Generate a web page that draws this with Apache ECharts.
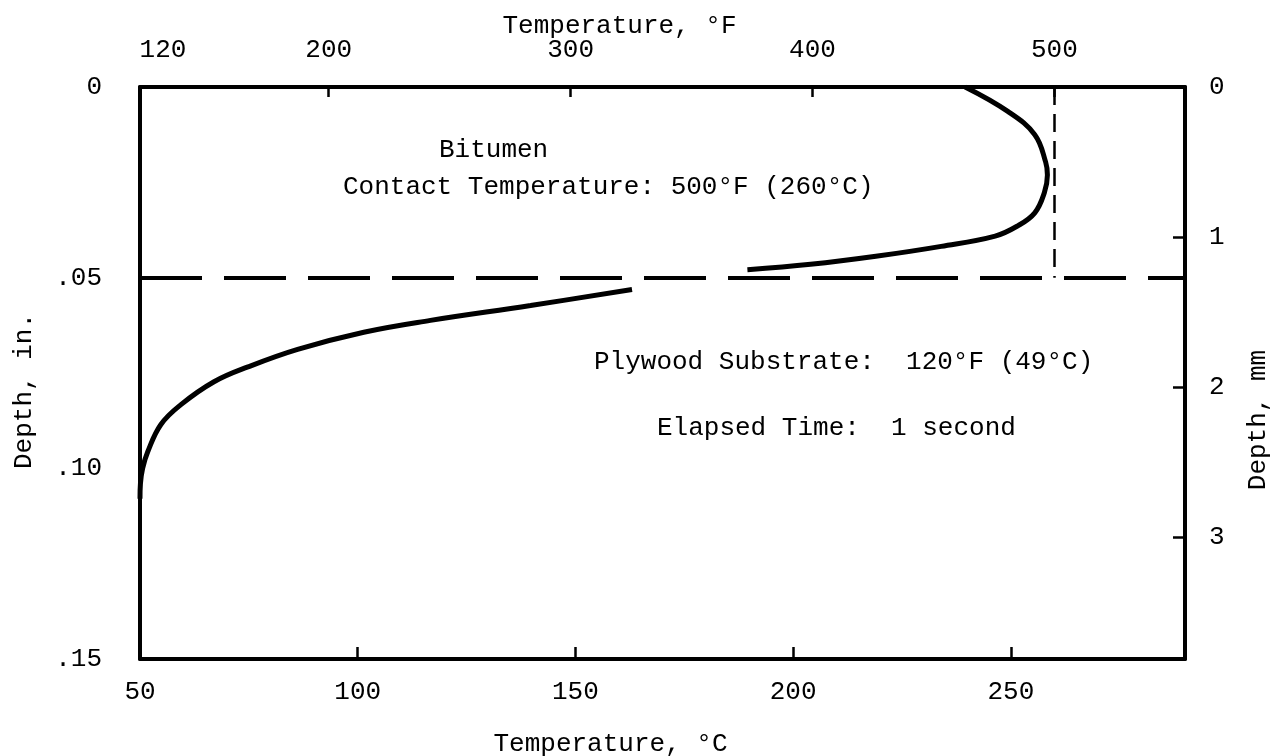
<!DOCTYPE html>
<html>
<head>
<meta charset="utf-8">
<title>Depth vs Temperature</title>
<script src="https://cdn.jsdelivr.net/npm/echarts@6/dist/echarts.min.js"></script>
<style>
  html, body { margin: 0; padding: 0; background: #fff; }
  #chart { width: 1276px; height: 756px; }
</style>
</head>
<body>
<div id="chart"></div>
<script>
  // bitumen layer profile (temperature °C, depth in.)
  var bitumenTempC = [239.5, 249.3, 255.5, 258.0, 258.4, 257.7, 255.5, 251.6, 246.4, 234.0, 219.0, 204.0, 189.5];
  var bitumenDepthIn = [0, 0.0064, 0.0125, 0.0197, 0.0231, 0.0277, 0.033, 0.0364, 0.0391, 0.0418, 0.0444, 0.0465, 0.0479];
  // plywood substrate profile
  var plywoodTempC = [163, 139.7, 116.7, 101.4, 86.2, 74.8, 67.0, 59.4, 54.8, 51.8, 50.6, 50.1, 50];
  var plywoodDepthIn = [0.0531, 0.0573, 0.0612, 0.0643, 0.0688, 0.0734, 0.0773, 0.0833, 0.0885, 0.0956, 0.1, 0.104, 0.108];

  // reference lines
  var interfaceDepthIn = 0.05;
  var contactTempC = 260;

  // top axis ticks (°F)
  var fahrenheitTicks = [120, 200, 300, 400, 500];
  var celsiusMin = 50, celsiusMax = 290;
  var depthMaxIn = 0.15;

  var FONT = '"Liberation Mono", "DejaVu Sans Mono", monospace';
  var BLACK = '#000';

  function toF(c) { return c * 9 / 5 + 32; }
  function pairs(xs, ys) { return xs.map(function (x, i) { return [x, ys[i]]; }); }

  var fMin = toF(celsiusMin), fMax = toF(celsiusMax);
  var fLabelValues = fahrenheitTicks.map(function (v) { return Math.max(v, fMin); });

  var chart = echarts.init(document.getElementById('chart'));

  var textStyle = {fontFamily: FONT, fontSize: 26, color: BLACK};
  var axisLine = {show: true, onZero: false, lineStyle: {color: BLACK, width: 4}};

  chart.setOption({
    backgroundColor: '#fff',
    animation: false,
    grid: {left: 140, right: 91, top: 87, bottom: 97, containLabel: false, outerBoundsMode: 'none'},
    xAxis: [
      {
        type: 'value', position: 'bottom', min: celsiusMin, max: celsiusMax, interval: 50,
        axisLine: axisLine,
        axisTick: {inside: true, length: 12, lineStyle: {color: BLACK, width: 2.5}},
        axisLabel: Object.assign({margin: 20, showMaxLabel: false}, textStyle),
        splitLine: {show: false},
        name: 'Temperature, °C', nameLocation: 'middle', nameGap: 72, nameMoveOverlap: false,
        nameTextStyle: Object.assign({padding: [0, 104, 0, 0]}, textStyle)
      },
      {
        type: 'value', position: 'top', min: fMin, max: fMax,
        axisLine: axisLine,
        axisTick: {inside: true, length: 10, customValues: fahrenheitTicks.slice(1), lineStyle: {color: BLACK, width: 2.5}},
        axisLabel: Object.assign({
          margin: 24, customValues: fLabelValues,
          formatter: function (v) { return v < fahrenheitTicks[1] ? '{first|' + fahrenheitTicks[0] + '}' : String(v); },
          rich: {first: {fontFamily: FONT, fontSize: 26, color: BLACK, padding: [0, 0, 0, 46]}}
        }, textStyle),
        splitLine: {show: false},
        name: 'Temperature, °F', nameLocation: 'middle', nameGap: 48, nameMoveOverlap: false,
        nameTextStyle: Object.assign({padding: [0, 86, 0, 0]}, textStyle)
      }
    ],
    yAxis: [
      {
        type: 'value', position: 'left', inverse: true, min: 0, max: depthMaxIn, interval: 0.05,
        axisLine: axisLine,
        axisTick: {show: false},
        axisLabel: Object.assign({
          margin: 38,
          formatter: function (v) { return v === 0 ? '0' : v.toFixed(2).replace(/^0/, ''); }
        }, textStyle),
        splitLine: {show: false},
        name: 'Depth, in.', nameLocation: 'middle', nameGap: 103, nameRotate: 90, nameMoveOverlap: false,
        nameTextStyle: Object.assign({padding: [0, 36, 0, 0]}, textStyle)
      },
      {
        type: 'value', position: 'right', inverse: true, min: 0, max: depthMaxIn * 25.4, interval: 1,
        axisLine: axisLine,
        axisTick: {inside: true, length: 12, lineStyle: {color: BLACK, width: 2.5}},
        axisLabel: Object.assign({margin: 24, showMaxLabel: false}, textStyle),
        splitLine: {show: false},
        name: 'Depth, mm', nameLocation: 'middle', nameGap: 60, nameRotate: 90, nameMoveOverlap: false,
        nameTextStyle: Object.assign({padding: [0, 94, 0, 0]}, textStyle)
      }
    ],
    graphic: [
      {type: 'text', x: 439, y: 150, style: {text: 'Bitumen', font: '26px ' + FONT, fill: BLACK, verticalAlign: 'middle'}},
      {type: 'text', x: 343, y: 187, style: {text: 'Contact Temperature: 500°F (260°C)', font: '26px ' + FONT, fill: BLACK, verticalAlign: 'middle'}},
      {type: 'text', x: 594, y: 362, style: {text: 'Plywood Substrate:  120°F (49°C)', font: '26px ' + FONT, fill: BLACK, verticalAlign: 'middle'}},
      {type: 'text', x: 657, y: 428, style: {text: 'Elapsed Time:  1 second', font: '26px ' + FONT, fill: BLACK, verticalAlign: 'middle'}}
    ],
    series: [
      {
        name: 'Bitumen', type: 'line', smooth: 0.4, symbol: 'none',
        data: pairs(bitumenTempC, bitumenDepthIn),
        lineStyle: {color: BLACK, width: 5},
        markLine: {
          silent: true, symbol: 'none', label: {show: false},
          data: [
            {yAxis: interfaceDepthIn, lineStyle: {color: BLACK, width: 4, type: [62, 22]}},
            [
              {coord: [contactTempC, 0], lineStyle: {color: BLACK, width: 2.5, type: [18, 9]}},
              {coord: [contactTempC, interfaceDepthIn]}
            ]
          ]
        }
      },
      {
        name: 'Plywood', type: 'line', smooth: 0.4, symbol: 'none',
        data: pairs(plywoodTempC, plywoodDepthIn),
        lineStyle: {color: BLACK, width: 5}
      }
    ]
  });
</script>
</body>
</html>
